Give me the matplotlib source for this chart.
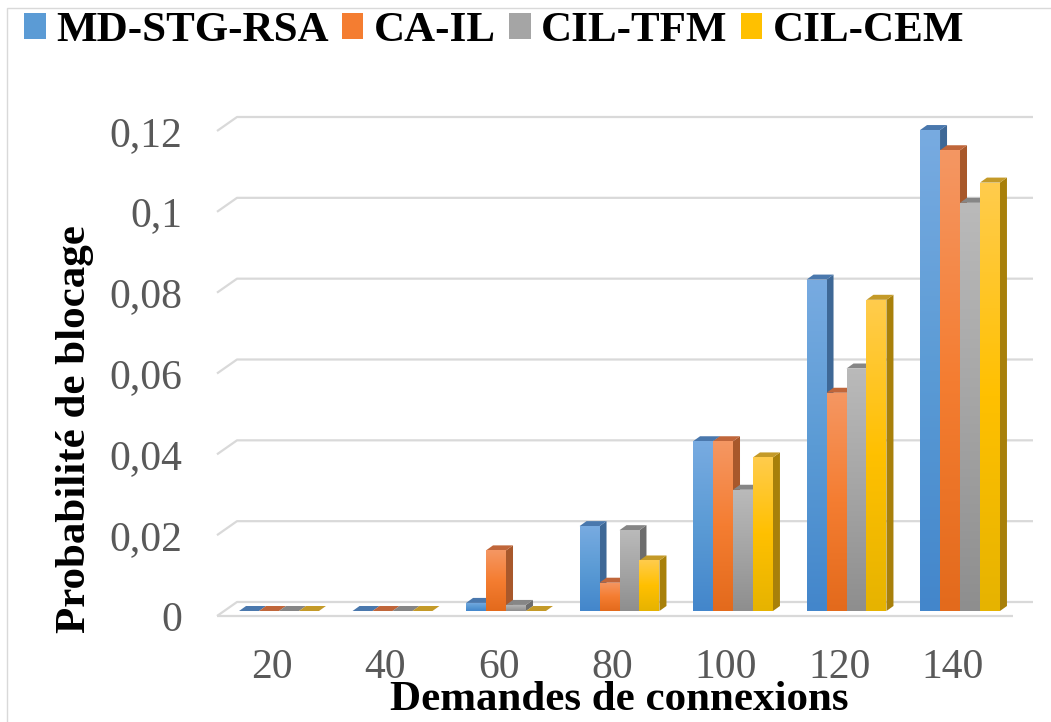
import numpy as np
import matplotlib
matplotlib.use('Agg')
import matplotlib.pyplot as plt
from matplotlib.patches import Polygon, Patch, Rectangle
from matplotlib.colors import LinearSegmentedColormap
from matplotlib.transforms import Affine2D

plt.rcParams['font.family'] = ['Liberation Serif', 'DejaVu Serif']

# donnees
demandes = ['20', '40', '60', '80', '100', '120', '140']
series = ['MD-STG-RSA', 'CA-IL', 'CIL-TFM', 'CIL-CEM']
md_stg_rsa = [0, 0, 0.002, 0.021, 0.042, 0.082, 0.119]
ca_il = [0, 0, 0.015, 0.007, 0.042, 0.054, 0.114]
cil_tfm = [0, 0, 0.0015, 0.020, 0.030, 0.060, 0.101]
cil_cem = [0, 0, 0, 0.0125, 0.038, 0.077, 0.106]
valeurs = [md_stg_rsa, ca_il, cil_tfm, cil_cem]
yticks = [0, 0.02, 0.04, 0.06, 0.08, 0.1, 0.12]
ylabels = ['0', '0,02', '0,04', '0,06', '0,08', '0,1', '0,12']

# couleurs (haut, milieu, bas, cote, dessus)
couleurs = [
    ('#78abe1', '#5b9bd5', '#4386cb', '#3e6896', '#4a78ad'),
    ('#f59763', '#f47d31', '#e36a1c', '#a8582b', '#c0663a'),
    ('#bababa', '#a5a5a5', '#8e8e8e', '#6d6d6d', '#868686'),
    ('#ffcc4d', '#ffc000', '#e6b300', '#a8800a', '#c49a28'),
]

W, H = 1051, 722
fig = plt.figure(figsize=(W / 100, H / 100), dpi=100)
ax = fig.add_axes([224 / W, (H - 611) / H, (1020 - 224) / W, 485 / H])
xmin, xmax = -0.4846, 6.5286
ax.set_xlim(xmin, xmax)
ax.set_ylim(0, 0.12)
for s in ax.spines.values():
    s.set_visible(False)
ax.patch.set_visible(False)

p0 = ax.transData.transform((0, 0))
sx = ax.transData.transform((1, 0))[0] - p0[0]
sy = ax.transData.transform((0, 1))[1] - p0[1]

def off(px, py):
    return px / sx, py / sy

# murs et sol
fdx, fdy = off(-7, -5)
bdx, bdy = off(13, 9)
ax.plot([xmin + fdx, xmax + fdx], [fdy, fdy], color='#d9d9d9', lw=1.6,
        clip_on=False, zorder=1, solid_capstyle='butt')
for v in yticks:
    ax.plot([xmin + fdx, xmin + bdx, xmax + bdx], [v + fdy, v + bdy, v + bdy],
            color='#d9d9d9', lw=1.6, clip_on=False, zorder=1, solid_capstyle='butt')

# barres 3D
w = 0.176
dbx, dby = off(7, 5)
grad = np.linspace(0, 1, 256).reshape(-1, 1)
z = 10
for i in range(len(demandes)):
    for j, vals in enumerate(valeurs):
        h = vals[i]
        c = couleurs[j]
        x0 = i + (j - 2) * w
        x1 = x0 + w
        cote = Polygon([(x1, 0), (x1 + dbx, dby), (x1 + dbx, h + dby), (x1, h)],
                       closed=True, fc=c[3], ec='none', zorder=z, clip_on=False)
        ax.add_patch(cote)
        dessus = Polygon([(x0, h), (x1, h), (x1 + dbx, h + dby), (x0 + dbx, h + dby)],
                         closed=True, fc=c[4], ec='none', zorder=z + 0.1, clip_on=False)
        ax.add_patch(dessus)
        barre = ax.bar(x0, h, width=w, align='edge', color=c[2], lw=0, zorder=z + 0.2)[0]
        if h > 0:
            cmap = LinearSegmentedColormap.from_list('g%d' % j, [c[2], c[1], c[0]])
            im = ax.imshow(grad, extent=(x0, x1, 0, h), origin='lower', aspect='auto',
                           cmap=cmap, vmin=0, vmax=1, zorder=z + 0.3)
            im.set_clip_path(barre)
        z += 1

ax.set_xlim(xmin, xmax)
ax.set_ylim(0, 0.12)
ax.set_aspect('auto')

ax.set_xticks(range(len(demandes)), demandes)
ax.set_yticks(yticks, ylabels)
ax.tick_params(axis='x', length=0, pad=27, labelsize=30, labelcolor='#595959')
ax.tick_params(axis='y', length=0, pad=30, labelsize=30, labelcolor='#595959')
for t in ax.xaxis.get_major_ticks():
    t.label1.set_transform(t.label1.get_transform() + Affine2D().translate(-7, 0))
for t in ax.yaxis.get_major_ticks():
    t.label1.set_transform(t.label1.get_transform() + Affine2D().translate(0, -5))

fig.text(619 / W, 1 - 700 / H, 'Demandes de connexions', ha='center', va='center',
         fontsize=31, fontweight='bold')
fig.text(75 / W, 1 - 429 / H, 'Probabilité de blocage', rotation=90, ha='center',
         va='center', fontsize=31, fontweight='bold')

poignees = [Patch(facecolor=c[1], edgecolor='none') for c in couleurs]
fig.legend(poignees, series, loc='upper left', bbox_to_anchor=(24 / W, 1 - 12 / H),
           ncol=4, frameon=False, prop=dict(weight='bold', size=31),
           handlelength=0.5, handleheight=0.55, handletextpad=0.25,
           columnspacing=0.3, borderaxespad=0, borderpad=0)

# cadre du graphique (gauche et haut seulement visibles)
fig.add_artist(Rectangle((7 / W, -0.05), 1.2, (H - 8) / H + 0.05,
                         transform=fig.transFigure, fill=False, ec='#d9d9d9', lw=1))

fig.savefig('out.png', dpi=100)
